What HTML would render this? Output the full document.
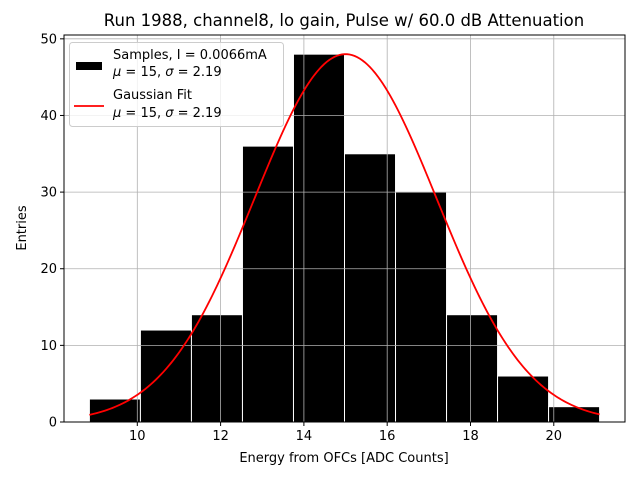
<!DOCTYPE html>
<html><head><meta charset="utf-8"><style>
body{margin:0;background:#fff;}
svg{display:block;font-family:"DejaVu Sans","Liberation Sans",sans-serif;}
</style></head><body>
<svg id="chart" width="640" height="480">
<rect x="0" y="0" width="640" height="480" fill="#fff"/>
<g id="bars"></g>
<g id="grid"></g>
<path id="fit" fill="none" stroke="red" stroke-width="1.8"/>
<rect x="64" y="35" width="561" height="387" fill="none" stroke="#000" stroke-width="1"/>
<g id="ticks" font-size="13"></g>
<text x="344" y="26" font-size="16.5" text-anchor="middle">Run 1988, channel8, lo gain, Pulse w/ 60.0 dB Attenuation</text>
<text x="344" y="462" font-size="13" text-anchor="middle">Energy from OFCs [ADC Counts]</text>
<text transform="translate(26,228) rotate(-90)" font-size="13" text-anchor="middle">Entries</text>
<g>
<rect x="69.5" y="42.5" width="214" height="84" rx="3" fill="#fff" fill-opacity="0.8" stroke="#ccc"/>
<rect x="76" y="62" width="26" height="8" fill="#000"/>
<text x="113" y="59" font-size="13">Samples, I = 0.0066mA</text>
<text x="113" y="76" font-size="13"><tspan font-style="italic">μ</tspan> = 15, <tspan font-style="italic">σ</tspan> = 2.19</text>
<line x1="74" y1="106" x2="104" y2="106" stroke="red" stroke-width="1.8"/>
<text x="113" y="99" font-size="13">Gaussian Fit</text>
<text x="113" y="117" font-size="13"><tspan font-style="italic">μ</tspan> = 15, <tspan font-style="italic">σ</tspan> = 2.19</text>
</g>
</svg>
<script>
const counts=[3,12,14,36,48,35,30,14,6,2];
const binStart=8.85, binEnd=21.1;
const fitMu=15, fitSigma=2.19, fitPeak=48;
const xTicks=[10,12,14,16,18,20];
const yTicks=[0,10,20,30,40,50];
const xMin=8.24,xMax=21.71,yMin=0,yMax=50.5;
const L=64,R=625,T=35,B=422;
const sx=v=>L+(v-xMin)/(xMax-xMin)*(R-L);
const sy=v=>B-(v-yMin)/(yMax-yMin)*(B-T);
const NS="http://www.w3.org/2000/svg";
function mk(t,a,p){const e=document.createElementNS(NS,t);for(const k in a)e.setAttribute(k,a[k]);p.appendChild(e);return e;}
const grid=document.getElementById('grid'),ticks=document.getElementById('ticks'),bars=document.getElementById('bars');
xTicks.forEach(v=>{const x=sx(v);
const g=mk('line',{x1:x,x2:x,y1:T,y2:B,stroke:'#b0b0b0','stroke-width':0.8},grid);


mk('line',{x1:x,x2:x,y1:B,y2:B+4,stroke:'#000'},ticks);
const t=mk('text',{x:x,y:B+18,'text-anchor':'middle'},ticks);t.textContent=v;

});
yTicks.forEach(v=>{const y=sy(v);
const g=mk('line',{x1:L,x2:R,y1:y,y2:y,stroke:'#b0b0b0','stroke-width':0.8},grid);


mk('line',{x1:L-4,x2:L,y1:y,y2:y,stroke:'#000'},ticks);
const t=mk('text',{x:L-7,y:y+4.5,'text-anchor':'end'},ticks);t.textContent=v;

});
const w=(binEnd-binStart)/counts.length;
counts.forEach((c,i)=>{const x0=sx(binStart+i*w),x1=sx(binStart+(i+1)*w);
const r=mk('rect',{x:x0,y:sy(c),width:x1-x0,height:sy(0)-sy(c),fill:'#000',stroke:'#fff','stroke-width':1},bars);

});
let d='';for(let i=0;i<=200;i++){const v=binStart+(binEnd-binStart)*i/200;
const y=fitPeak*Math.exp(-0.5*((v-fitMu)/fitSigma)**2);d+=(i?'L':'M')+sx(v).toFixed(2)+','+sy(y).toFixed(2);}
document.getElementById('fit').setAttribute('d',d);
</script>
</body></html>
